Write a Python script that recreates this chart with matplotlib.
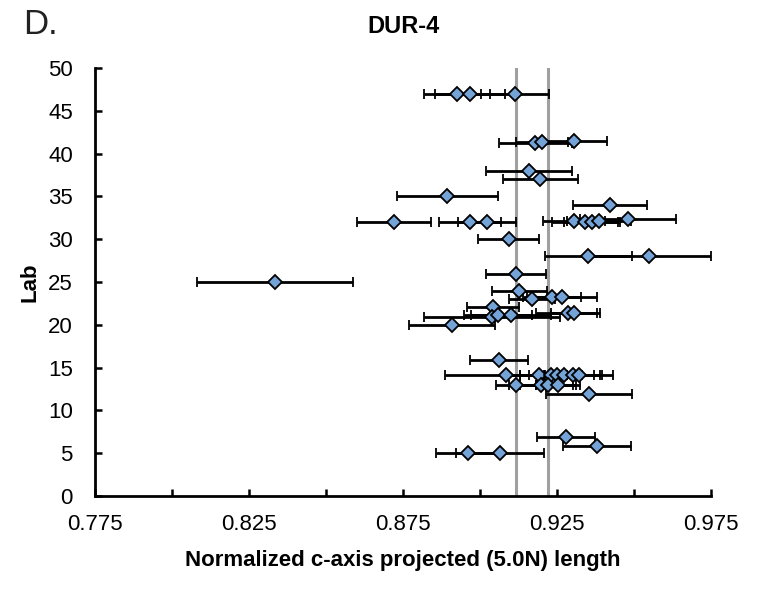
import matplotlib.pyplot as plt
import numpy as np

# Datos DUR-4: posición (laboratorio), longitud normalizada y error
lab_y = [
    47, 47, 47,
    41.2, 41.4, 41.5,
    38, 37, 35, 34,
    32, 32, 32, 32.1, 32, 32, 32.1, 32.3,
    30, 28, 28, 25.9, 25,
    23.95, 23, 23.2, 23.2, 22.1,
    20.9, 21.1, 21.1, 21.4, 21.4,
    20, 15.9,
    14.1, 14.1, 14.1, 14.1, 14.1, 14.1, 14.1,
    13, 13, 13, 13,
    11.9, 6.9, 5.85, 5, 5,
]
c_len = [
    0.8925, 0.8968, 0.9114,
    0.9179, 0.9201, 0.9305,
    0.9159, 0.9195, 0.8893, 0.9422,
    0.8721, 0.8968, 0.9023, 0.9305, 0.9341, 0.9364, 0.9386, 0.9481,
    0.9094, 0.9351, 0.9549, 0.9117, 0.8334,
    0.9128, 0.9169, 0.9234, 0.9266, 0.9042,
    0.9039, 0.9058, 0.9101, 0.9286, 0.9305,
    0.8909, 0.9062,
    0.9084, 0.9192, 0.9230, 0.9250, 0.9273, 0.9302, 0.9321,
    0.9117, 0.9198, 0.9221, 0.9253,
    0.9354, 0.9279, 0.9380, 0.8961, 0.9065,
]
c_err = [
    0.0107, 0.0114, 0.0110,
    0.0118, 0.0085, 0.0107,
    0.0140, 0.0122, 0.0164, 0.0119,
    0.0120, 0.0100, 0.0093, 0.0100, 0.0107, 0.0090, 0.0104, 0.0156,
    0.0099, 0.0141, 0.0201, 0.0097, 0.0253,
    0.0088, 0.0075, 0.0094, 0.0114, 0.0083,
    0.0220, 0.0110, 0.0130, 0.0105, 0.0075,
    0.0138, 0.0093,
    0.0198, 0.0110, 0.0100, 0.0120, 0.0115, 0.0095, 0.0110,
    0.0065, 0.0105, 0.0090, 0.0070,
    0.0140, 0.0094, 0.0110, 0.0104, 0.0143,
]
ref_lines = [0.9117, 0.9221]

x_major = np.arange(0.775, 0.976, 0.05)
x_minor = np.arange(0.800, 0.976, 0.05)
y_ticks = np.arange(0, 51, 5)

plt.rcParams['font.family'] = ['Liberation Sans', 'DejaVu Sans']

fig = plt.figure(figsize=(7.59, 5.89), dpi=100)
ax = fig.add_axes([0.1252, 0.1579, 0.8116, 0.7267])

# líneas de referencia verticales
for xv in ref_lines:
    ax.axvline(xv, color='#a0a0a0', lw=2.2, zorder=1)

ax.errorbar(c_len, lab_y, xerr=c_err, fmt='D', color='black', ecolor='black',
            elinewidth=2.0, capsize=3.3, capthick=2.0,
            markerfacecolor='#74a3d8', markeredgecolor='black',
            markeredgewidth=1.3, markersize=7, zorder=3)

ax.set_xlim(0.775, 0.975)
ax.set_ylim(0, 50)
ax.set_xticks(x_major)
ax.set_xticklabels([f"{v:.3f}" for v in x_major])
ax.set_xticks(x_minor, minor=True)
ax.set_yticks(y_ticks)

for side in ['top', 'right']:
    ax.spines[side].set_visible(False)
for side in ['left', 'bottom']:
    ax.spines[side].set_linewidth(2.0)

ax.tick_params(axis='both', which='both', direction='in', length=5, width=1.8,
               labelsize=16)
ax.tick_params(axis='x', which='major', pad=13)
ax.tick_params(axis='y', which='major', pad=16)

ax.set_xlabel('Normalized c-axis projected (5.0N) length', fontsize=16,
              fontweight='bold', labelpad=11)
ax.set_ylabel('Lab', fontsize=16, fontweight='bold', labelpad=5)
ax.set_title('DUR-4', fontsize=17, fontweight='bold', pad=25)

fig.text(0.03, 0.943, 'D.', fontsize=25, color='#222222')

fig.savefig('out.png', dpi=100)
